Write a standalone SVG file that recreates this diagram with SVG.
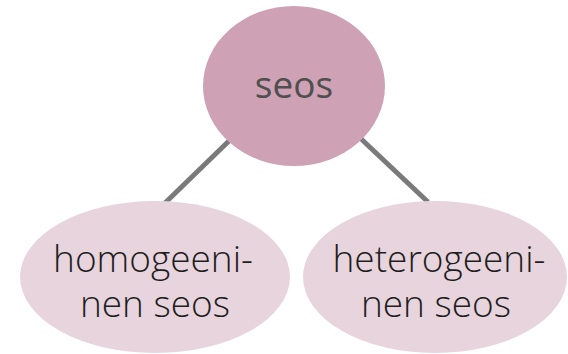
<svg xmlns="http://www.w3.org/2000/svg" width="568" height="354" viewBox="0 0 568 354">
  <style>
    .link { stroke: #7a7a7a; stroke-width: 5; stroke-linecap: butt; }
    .root { fill: #cea1b5; }
    .leaf { fill: #e8d4dd; }
    .label { font-family: "Open Sans", "Liberation Sans", sans-serif; text-anchor: middle; }
    .root-label { fill: #4f4f4f; font-size: 37px; font-weight: 500; }
    .leaf-label { fill: #1e1e1e; font-size: 37px; font-weight: 300; }
  </style>
  <rect width="568" height="354" fill="#ffffff"/>
  <g id="connectors">
    <line class="link" x1="232" y1="138" x2="165" y2="203"/>
    <line class="link" x1="358" y1="136" x2="428" y2="202"/>
  </g>
  <g id="node-seos">
    <ellipse class="root" cx="294" cy="86" rx="91" ry="80"/>
    <text class="label root-label" x="294" y="98">seos</text>
  </g>
  <g id="node-homogeeninen">
    <ellipse class="leaf" cx="155" cy="277" rx="135" ry="76"/>
    <text class="label leaf-label" x="153" y="272">homogeeni-</text>
    <text class="label leaf-label" x="155" y="317">nen seos</text>
  </g>
  <g id="node-heterogeeninen">
    <ellipse class="leaf" cx="435" cy="277" rx="132" ry="76"/>
    <text class="label leaf-label" x="439" y="272">heterogeeni-</text>
    <text class="label leaf-label" x="436" y="317">nen seos</text>
  </g>
</svg>
